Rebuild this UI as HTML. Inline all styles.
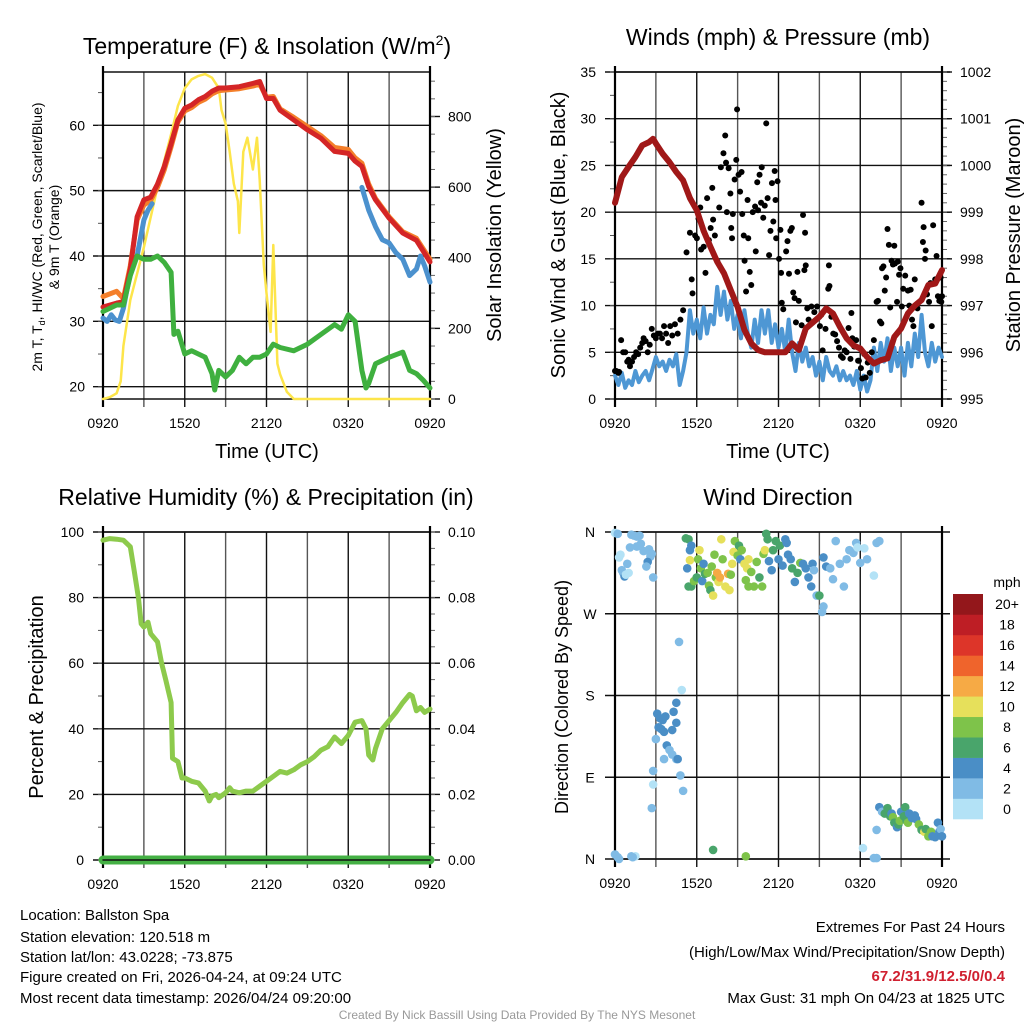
<!DOCTYPE html>
<html><head><meta charset="utf-8">
<style>
html,body{margin:0;padding:0;background:#fff;}
svg{display:block;font-family:"Liberation Sans",Arial,sans-serif;}
</style></head>
<body>
<svg id="chart" width="1024" height="1024" viewBox="0 0 1024 1024" xmlns="http://www.w3.org/2000/svg">
<rect x="0" y="0" width="1024" height="1024" fill="#fff"/>
<!-- titles -->
<text x="267" y="54" font-size="23" text-anchor="middle">Temperature (F) &amp; Insolation (W/m<tspan font-size="14" dy="-9">2</tspan><tspan dy="9">)</tspan></text>
<text x="778" y="45" font-size="23" text-anchor="middle">Winds (mph) &amp; Pressure (mb)</text>
<text x="266" y="505" font-size="23" text-anchor="middle">Relative Humidity (%) &amp; Precipitation (in)</text>
<text x="778" y="505" font-size="23" text-anchor="middle">Wind Direction</text>
<!-- axis titles -->
<text transform="translate(42,237) rotate(-90)" font-size="14" text-anchor="middle">2m T, T<tspan font-size="9" dy="3">d</tspan><tspan dy="-3">, HI/WC (Red, Green, Scarlet/Blue)</tspan></text>
<text transform="translate(59,237) rotate(-90)" font-size="14" text-anchor="middle">&amp; 9m T (Orange)</text>
<text transform="translate(501,235) rotate(-90)" font-size="20" text-anchor="middle">Solar Insolation (Yellow)</text>
<text x="267" y="458" font-size="20" text-anchor="middle">Time (UTC)</text>
<text transform="translate(565,235) rotate(-90)" font-size="20" text-anchor="middle">Sonic Wind &amp; Gust (Blue, Black)</text>
<text transform="translate(1020,235) rotate(-90)" font-size="20" text-anchor="middle">Station Pressure (Maroon)</text>
<text x="778" y="458" font-size="20" text-anchor="middle">Time (UTC)</text>
<text transform="translate(43,697) rotate(-90)" font-size="20" text-anchor="middle">Percent &amp; Precipitation</text>
<text transform="translate(568,697) rotate(-90)" font-size="18" text-anchor="middle">Direction (Colored By Speed)</text>
<text x="1007" y="587" font-size="14" text-anchor="middle">mph</text>
<!-- footer text -->
<g font-size="15">
<text x="20" y="920">Location: Ballston Spa</text>
<text x="20" y="942">Station elevation: 120.518 m</text>
<text x="20" y="962">Station lat/lon: 43.0228; -73.875</text>
<text x="20" y="982">Figure created on Fri, 2026-04-24, at 09:24 UTC</text>
<text x="20" y="1003">Most recent data timestamp: 2026/04/24 09:20:00</text>
</g>
<g font-size="15" text-anchor="end">
<text x="1005" y="932">Extremes For Past 24 Hours</text>
<text x="1005" y="957">(High/Low/Max Wind/Precipitation/Snow Depth)</text>
<text x="1005" y="981" fill="#d02030" font-weight="bold">67.2/31.9/12.5/0/0.4</text>
<text x="1005" y="1003">Max Gust: 31 mph On 04/23 at 1825 UTC</text>
</g>
<text x="517" y="1019" font-size="12" fill="#999" text-anchor="middle">Created By Nick Bassill Using Data Provided By The NYS Mesonet</text>
</svg>
<script>
// ---------- data ----------
const xTickLabels = ["0920","1520","2120","0320","0920"];
// Temperature panel (hours since 0920)
const tempHours = [0,1,1.5,2,2.5,3,3.5,4,4.5,5,5.5,6,6.5,7,7.5,8,8.5,9,10,11,11.5,12,12.5,13,14,15,16,17,18,18.5,19,19.5,20,21,22,23,24];
const tempRed   = [32.2,32.8,33,38,46,48.6,49,51,53.7,57.2,60.8,62.6,63.1,63.9,64.4,65.2,65.7,65.7,65.9,66.4,66.7,64.1,64.1,62.3,60.8,59.3,58,56,55.7,54.5,53.7,50.6,48.6,45.8,43.5,42.4,39.1];
const tempOrange= [33.8,34.6,33.5,38.5,45.5,47.8,48.5,50.5,53.2,56.7,60.5,62.2,62.7,63.5,64,64.8,65.3,65.4,65.6,66,66.3,64.3,64.4,62.5,61.2,59.8,58.4,56.6,56.3,55,54.2,51,48.8,46,43.7,42.7,39.5];
const hiHours = [0,0.3,0.6,0.9,1.2,1.5,2,2.5,3,3.3,3.6,null,19,19.5,20,20.5,21,21.5,22,22.5,23,23.3,23.6,24];
const hiBlue  = [30.5,30,31,30.2,30,32,37.5,40,45.5,47,48,null,50.5,47,44.5,42.5,42,40.5,39.5,37,38,40,38.5,36];
const dewHours = [0,1,1.5,2,2.5,3,3.5,4,4.5,5,5.2,5.5,6,6.5,7,7.5,8,8.2,8.5,9,9.5,10,10.5,11,11.5,12,12.5,13,14,15,16,17,17.5,18,18.5,19,19.3,19.5,20,21,22,22.5,23,23.5,24];
const dewGreen = [31.5,32.5,32.5,37,40,39.5,39.5,40,39,37.5,28,28.5,25,25.5,25,24.5,22,19.5,22.5,21.5,22.5,24.5,23.5,24.5,24.5,25,26.5,26,25.5,26.5,28,29.5,28.8,31,30,22.5,19.8,20.5,23.5,24.5,25.3,22.5,22,21,19.8];
const solarHours = [0,0.5,1,1.3,1.5,2,3,4,5,5.5,6,6.5,7,7.5,8,8.5,8.7,9,9.3,9.6,9.9,10,10.3,10.6,11,11.3,11.5,11.8,12,12.3,12.5,12.8,13,13.5,14,15,24];
const solarW     = [0,5,16,50,150,280,430,600,750,830,880,905,915,920,910,880,818,780,700,610,560,470,700,740,650,740,620,380,300,190,436,100,70,20,0,0,0];
// Wind panel
const windEvery15min = [2.5,1.5,2.8,1.2, 2.0,1.5,3.0,1.8, 2.5,3.0,2.0,3.2, 4.5,3.5,4.0,3.0, 4.2,3.5,4.8,1.5, 3.0,5.0,9.5,7.0, 8.5,6.5,9.8,7.0, 9.0,8.0,12.0,9.0, 11.5,8.5,10.5,7.5, 9.0,6.5,9.5,7.0, 5.5,8.5,6.0,9.5, 7.0,9.5,6.0,8.0, 5.5,7.5,5.0,8.5, 5.0,3.0,6.0,4.0, 5.5,3.5,4.5,2.5, 4.0,2.0,4.5,3.0, 2.5,3.5,2.0,3.0, 2.0,2.5,1.5,3.0, 1.0,2.5,0.8,2.0, 5.5,3.0,6.0,4.0, 6.5,3.0,5.5,3.5, 5.5,2.5,6.0,3.5, 7.0,4.5,9.0,5.0, 3.5,6.0,4.0,5.5, 4.5];
const pressHours = [0,0.5,1,1.5,2,2.5,2.8,3,3.5,4,4.5,5,5.5,6,6.5,7,7.5,8,8.5,9,9.5,10,10.5,11,12,12.5,13,13.5,14,15,15.5,16,16.5,17,17.5,18,18.5,19,19.5,20,20.5,21,21.5,22,22.5,23,23.5,24];
const pressMb = [999.2,999.75,999.97,1000.18,1000.43,1000.5,1000.57,1000.47,1000.25,1000.07,999.86,999.68,999.3,999.04,998.6,998.26,997.94,997.69,997.33,996.97,996.48,996.19,996.05,996.0,996.0,996.0,996.19,996.05,996.51,996.76,996.94,996.83,996.55,996.3,996.15,996.08,995.9,995.76,995.83,995.87,996.33,996.51,996.83,997.0,997.12,997.44,997.47,997.76];
const gustHours = [0,0.1,0.25,0.3,0.45,0.6,0.75,0.9,1.0,1.1,1.25,1.4,1.55,1.7,1.85,2.0,2.1,2.25,2.4,2.55,2.7,2.85,3.0,3.15,3.3,3.45,3.6,3.75,3.9,4.05,4.2,4.4,4.6,4.8,5.0,
5.25,5.5,5.63,5.69,5.88,6.01,6.13,6.26,6.32,6.51,6.64,6.76,6.89,7.02,7.14,7.2,7.33,7.52,7.65,7.77,7.96,8.09,8.15,8.21,8.34,8.47,8.53,8.59,8.65,8.78,8.9,
8.96,9.07,9.18,9.29,9.34,9.45,9.51,9.62,9.73,9.78,9.89,10.0,10.11,10.28,10.33,10.44,10.5,10.61,10.72,10.77,10.88,10.99,11.1,
11.2,11.31,11.41,11.52,11.62,11.72,11.78,11.83,11.93,12.04,12.14,12.19,12.24,12.35,12.56,12.66,12.77,12.87,12.98,13.08,13.18,13.28,13.39,13.49,13.7,13.8,
13.9,13.95,14.0,14.11,14.21,14.42,14.63,14.83,15.04,
15.14,15.24,15.45,15.65,15.7,15.74,15.88,16.02,16.16,16.3,16.44,16.58,16.72,16.86,17.0,17.14,17.28,17.35,17.42,17.56,17.7,17.84,
17.9,18.05,18.15,18.3,18.4,18.55,18.7,18.85,19.0,19.2,19.3,19.45,19.55,19.6,19.7,19.8,19.9,20.0,20.1,20.2,20.3,20.4,20.5,20.55,20.7,20.75,20.85,20.95,21.05,21.15,21.3,21.5,21.6,21.7,21.8,21.9,22.0,22.2,22.5,22.6,22.65,22.75,22.8,22.9,23.05,23.15,23.25,23.35,23.5,23.6,23.7,23.8,23.9,24.0,23.95];
const gustMph = [3,3,2.8,2.9,6.3,5,5,4,4.2,3.5,4,4.5,5,4.8,5.5,6,6.5,6.2,5,5.8,7.5,6.8,6.5,7,7,6.5,7.8,7,6,7.8,6.8,8,7,8.5,9.5,
15.7,17.8,12.8,11.3,17.5,17.2,19.3,20.5,16,16.3,13.5,21.5,17,18.3,22.6,19.2,17.5,14.7,20.5,24.8,26.3,28.2,25.3,20,24.7,22,18.3,17.2,19.8,23.5,25.6,31,24,22.2,24.3,19.8,17.5,14.8,11.5,21.3,17.2,13.6,12.2,20,20.6,15.8,23.2,20.2,24,21,24.8,19.4,20.7,29.5,21.5,15.4,18,23.1,19,24.4,21.3,17.2,23.3,15,18.1,13.5,10.3,9.6,15.8,16.9,13.4,18,18.3,11.4,10.8,8.2,13.6,10.5,7.9,19.7,13.8,17.8,14.3,9.7,8.5,9.9,9.3,9.9,7.8,
9,5.2,7.5,11.8,14.3,12.1,8.8,7,6.9,6.2,5.5,4.6,4.4,5.2,5,7.6,4.3,9.2,6.5,5.6,6.3,4.1,
4.1,3.3,2.2,4.8,2.3,3.9,2.8,5,6.3,10.4,10.5,8.3,8.1,14,14.2,11.6,13,18.2,16.5,9.8,14.8,14.4,16.4,14.5,10.4,14.7,13.3,14,9.9,11.8,13.2,11.6,10,11.7,8.5,7.8,12.8,9.7,21,16.8,18.4,15,15.9,11.2,10.4,12.4,7.8,18.6,12.8,15.3,11,10.5,13,11,10.4];
// Humidity panel
const rhHours = [0,0.5,1,1.5,2,2.3,2.6,2.8,3,3.3,3.5,4,4.3,4.6,5,5.1,5.5,5.8,6,6.5,7,7.5,7.8,8,8.3,8.5,9,9.3,9.5,10,10.5,11,11.5,12,12.5,13,13.5,14,14.5,15,15.5,16,16.5,17,17.5,18,18.5,19,19.3,19.5,19.8,20,20.5,21,21.5,22,22.5,22.7,23,23.3,23.6,24];
const rhPct = [97.5,98,97.8,97.5,95.5,88,80,72,71,72.5,69,66.5,60,55,48,31,30,25,25,24,23.5,21,18,19.5,20,19,20.5,22,21,20.5,21,21,22.5,24,25.5,27,26.5,27.5,29,30,31.5,33.5,34.5,37.5,35.5,38,42,42.5,40,32,30.5,34,40,42.5,45,48,50.5,50,45.5,46.5,45,46];
const precipHours = [0,24];
const precipIn = [0,0];
// Wind direction panel
const dirHours = [0,0.2,0.4,0.3,0.6,0.7,0.5,0.9,1.2,1.4,1.6,1.8,1.1,1.6,1.9,2.1,2.5,2.6,2.4,2.3,2.7,2.6,2.8,1.0,0.8,
0,0.2,0.3,1.2,1.5,1.3,
3.1,3.3,3.5,3.7,3.2,3.0,3.6,3.4,4.2,4.5,4.3,4.5,4.7,4.9,3.8,4.0,4.2,4.5,4.8,5.0,4.6,2.8,2.8,2.7,3.6,
5.2,5.4,5.3,5.5,5.6,5.5,5.4,5.6,5.8,6.0,6.2,6.1,6.3,6.4,6.5,6.6,6.8,6.9,7.0,7.1,7.2,7.3,7.4,7.6,7.7,7.5,7.8,7.9,8.1,8.3,8.4,8.5,8.6,8.7,8.8,9.0,9.1,9.3,9.2,9.5,9.7,9.8,9.6,9.8,10.0,10.2,10.4,10.6,10.8,10.9,11.0,11.1,11.2,11.3,11.5,11.6,11.8,12.0,12.1,12.3,12.5,12.6,12.7,12.9,13.0,13.2,13.4,13.6,13.8,14.0,14.2,14.4,14.5,14.6,14.8,15.0,15.3,15.5,15.8,16.0,16.2,16.5,16.8,17.0,17.2,17.5,17.7,17.8,18.0,18.3,18.5,19.0,19.2,19.4,15.2,15.3,
7.2,9.6,18.2,19.0,19.2,
19.4,19.6,19.8,20.0,20.2,20.3,20.4,20.5,20.7,20.8,20.9,21.0,21.2,21.3,21.4,21.5,21.6,21.8,22.0,22.1,22.3,22.5,22.7,22.8,23.0,23.2,23.3,23.5,23.7,23.8,23.9,24.0,19.2];
const dirDeg = [359,358,335,332,315,311,318,325,357,356,355,356,343,344,347,339,341,333,327,322,336,336,310,315,313,
5,2,0,3,3,2,
160,155,153,157,145,132,140,143,142,150,162,172,239,186,125,120,115,110,92,75,110,97,82,56,110,
353,352,320,340,345,329,300,300,306,310,340,330,320,306,325,314,315,301,296,322,290,335,310,305,310,315,352,330,300,314,296,313,325,338,350,334,345,340,330,325,320,330,307,300,316,300,327,310,300,336,340,358,352,328,318,340,350,330,345,323,352,348,335,330,320,305,315,326,325,320,310,300,325,318,290,290,332,322,320,308,350,325,300,330,340,337,348,343,326,342,330,312,348,350,272,278,
10,3,12,1,1,
57,52,50,56,47,50,46,40,35,38,42,52,47,57,42,40,50,45,48,44,38,32,30,33,25,30,25,24,40,30,33,25,32];
const dirSpeed = [1,2,0.5,1,2,4,3,3,2.5,2.5,3,2,3,2.5,2.5,3,3,2.5,4,3,3.5,2,3,1.5,1.5,
2,3,2,2,1,2.5,
4,4,4,5,4,3,4,4.5,4,4,4,4.5,2.5,0.5,4,3.5,3,3,3,2.5,4.5,2.5,1.5,3,3,
7,7,4,4.5,5,10,6,6.5,8,7,10,8,9,5,4,6,9,9,7,8,10,8,8,11,13,12,10,9,10,12,10,8,10,11,8,9,7,8,4,10,11,10,8,9,8,8,8,7,9,9,10,6,7,4,4,6,6,5,6,5,4,4,4,5,6,4,6,8,4,4,5,4,4,3,3,6,4,5,3,3,3,3,3,3,3,3,2,1,3,1,2.5,1,2,2,3,2,
6,8,1,2,3,
4,3,6,7,6,5,8,6,5,7,8,4,6,6,6,8,4,4,4,5,8,6,10,6,8,9,4,4,4,4,3,4,2];
const speedBinLabels = ["0","2","4","6","8","10","12","14","16","18","20+"];
const speedBinColors = ["#b3e2f6","#80bbe5","#4a8ec6","#49a56b","#7ec34a","#e6e05b","#f6aa45","#ef642c","#dd3529","#be1e25","#93171b"];

// ---------- helpers ----------
const NS = "http://www.w3.org/2000/svg";
const svg = document.getElementById("chart");
function el(tag, attrs, parent){
  const e = document.createElementNS(NS, tag);
  for (const k in attrs) e.setAttribute(k, attrs[k]);
  (parent || svg).appendChild(e);
  return e;
}
function lin(d0,d1,r0,r1){ return v => r0 + (v-d0)/(d1-d0)*(r1-r0); }
function linePath(xs, ys, sx, sy){
  let d = "", pen = false;
  for (let i=0;i<xs.length;i++){
    if (xs[i]===null || ys[i]===null){ pen=false; continue; }
    d += (pen ? "L" : "M") + sx(xs[i]).toFixed(1) + "," + sy(ys[i]).toFixed(1);
    pen = true;
  }
  return d;
}

function frame(p){
  const g = el("g", {});
  
  
  const sx = lin(0,24,p.x0,p.x1);
  for (let h=0; h<=24; h+=3){
    const x = sx(h);
    const ln = el("line", {x1:x, y1:p.yT, x2:x, y2:p.yB+8, stroke:(h%6===3?"#555":"#111"), "stroke-width":(h===0||h===24)?2:1.4}, g);
    
    
  }
  xTickLabels.forEach((lab,i)=>{
    const t = el("text", {x:sx(i*6), y:p.yB+29, "font-size":14, "text-anchor":"middle"}, g);
    t.textContent = lab;
    
    
  });
  p.ticks.forEach((v,i)=>{
    const y = p.sy(v);
    const ln = el("line", {x1:p.x0-10, y1:y, x2:p.x1+(p.extRight||0), y2:y, stroke:"#111", "stroke-width":1.4}, g);
    
    
    const t = el("text", {x:p.labelX, y:y+5, "font-size":14, "text-anchor":p.labelAnchor||"end"}, g);
    t.textContent = p.tickLabels[i];
    
    
  });
  (p.minor||[]).forEach(v=>{
    const y = p.sy(v);
    el("line", {x1:p.x0-5, y1:y, x2:p.x0, y2:y, stroke:"#555", "stroke-width":1}, g);
  });
  if (p.rTicks){
    p.rTicks.forEach((v,i)=>{
      const y = p.sr(v);
      el("line", {x1:p.x1, y1:y, x2:p.x1+10, y2:y, stroke:"#111", "stroke-width":1.4}, g);
      const t = el("text", {x:p.x1+18, y:y+5, "font-size":14}, g);
      t.textContent = p.rLabels[i];
      
      
    });
    (p.rMinor||[]).forEach(v=>{
      const y = p.sr(v);
      el("line", {x1:p.x1, y1:y, x2:p.x1+5, y2:y, stroke:"#666", "stroke-width":1}, g);
    });
  }
  el("line", {x1:p.x0, y1:p.yT, x2:p.x1, y2:p.yT, stroke:"#111", "stroke-width":1.4}, g);
  el("line", {x1:p.x0, y1:p.yB, x2:p.x1, y2:p.yB, stroke:"#111", "stroke-width":1.4}, g);
  el("line", {x1:p.x0, y1:p.yT-6, x2:p.x0, y2:p.yB+8, stroke:"#000", "stroke-width":2.2}, g);
  el("line", {x1:p.x1, y1:p.yT-6, x2:p.x1, y2:p.yB+8, stroke:"#000", "stroke-width":2.2}, g);
  return sx;
}
function range(a,b,s){ const r=[]; for(let v=a; v<=b+1e-9; v+=s) r.push(+v.toFixed(4)); return r; }

// ---------- Panel 1: temperature ----------
(function(){
  const p = {name:"temperature", x0:103, x1:430, yT:72, yB:399};
  p.sy = lin(18.12,68.15,399,72);
  p.sr = lin(0,926,399,72);
  p.ticks=[20,30,40,50,60]; p.tickLabels=["20","30","40","50","60"]; p.labelX=85;
  p.minor = range(20,65,5);
  p.rTicks=[0,200,400,600,800]; p.rLabels=["0","200","400","600","800"];
  p.rMinor = range(0,900,50);
  const sx = frame(p);
  const g = el("g", {fill:"none", "stroke-linejoin":"round", "stroke-linecap":"round"});
  
  
  let s;
  s = el("path", {d:linePath(solarHours, solarW, sx, p.sr), stroke:"#fde54a", "stroke-width":2.5}, g);
  
  
  s = el("path", {d:linePath(tempHours, tempOrange, sx, p.sy), stroke:"#f47f2a", "stroke-width":5}, g);
  
  
  s = el("path", {d:linePath(hiHours, hiBlue, sx, p.sy), stroke:"#4b91ce", "stroke-width":5}, g);
  
  
  s = el("path", {d:linePath(tempHours, tempRed, sx, p.sy), stroke:"#d42526", "stroke-width":5}, g);
  
  
  s = el("path", {d:linePath(dewHours, dewGreen, sx, p.sy), stroke:"#3fb03f", "stroke-width":5}, g);
  
  
})();

// ---------- Panel 2: winds ----------
(function(){
  const p = {name:"winds", x0:615, x1:942, yT:72, yB:399, extRight:8};
  p.sy = lin(0,35,399,72);
  p.sr = lin(995,1002,399,72);
  p.ticks=[0,5,10,15,20,25,30,35]; p.tickLabels=["0","5","10","15","20","25","30","35"]; p.labelX=596;
  p.minor = range(0,35,2.5);
  p.rTicks=[995,996,997,998,999,1000,1001,1002]; p.rLabels=["995","996","997","998","999","1000","1001","1002"];
  p.rMinor = range(995,1002,0.2);
  const sx = frame(p);
  const windHours = windEvery15min.map((v,i)=>i/4);
  const g = el("g", {fill:"none", "stroke-linejoin":"round", "stroke-linecap":"round"});
  
  
  let s = el("path", {d:linePath(windHours, windEvery15min, sx, p.sy), stroke:"#4e97d4", "stroke-width":4}, g);
  
  
  gustHours.forEach((t,i)=>{
    const c = el("circle", {cx:sx(t), cy:p.sy(gustMph[i]), r:3, fill:"#000"}, g);
    
    
  });
  s = el("path", {d:linePath(pressHours, pressMb, sx, p.sr), stroke:"#a01818", "stroke-width":6}, g);
  
  
})();

// ---------- Panel 3: humidity ----------
(function(){
  const p = {name:"humidity", x0:103, x1:430, yT:532, yB:860};
  p.sy = lin(0,100,860,532);
  p.sr = lin(0,0.1,860,532);
  p.ticks=[0,20,40,60,80,100]; p.tickLabels=["0","20","40","60","80","100"]; p.labelX=84;
  p.minor = range(0,100,10);
  p.rTicks=[0,0.02,0.04,0.06,0.08,0.1]; p.rLabels=["0.00","0.02","0.04","0.06","0.08","0.10"];
  p.rMinor = range(0,0.1,0.005);
  const sx = frame(p);
  const g = el("g", {fill:"none", "stroke-linejoin":"round", "stroke-linecap":"round"});
  
  
  let s = el("path", {d:linePath(rhHours, rhPct, sx, p.sy), stroke:"#8dca4c", "stroke-width":5}, g);
  
  
  s = el("path", {d:linePath(precipHours, precipIn, sx, p.sr), stroke:"#44b044", "stroke-width":9}, g);
  
  
  el("line", {x1:103, y1:860, x2:430, y2:860, stroke:"#111", "stroke-width":1.4}, g);
})();

// ---------- Panel 4: wind direction ----------
(function(){
  const p = {name:"wind-direction", x0:615, x1:942, yT:532, yB:859, extRight:8};
  p.sy = lin(0,360,859,532);
  p.ticks=[0,90,180,270,360]; p.tickLabels=["N","E","S","W","N"]; p.labelX=590; p.labelAnchor="middle";
  const sx = frame(p);
  const g = el("g", {});
  
  
  dirHours.forEach((t,i)=>{
    const bin = Math.min(10, Math.max(0, Math.floor(dirSpeed[i]/2)));
    const c = el("circle", {cx:sx(t), cy:p.sy(dirDeg[i]), r:4.3, fill:speedBinColors[bin]}, g);
    
    
  });
  const cb = el("g", {});
  
  
  const top=594, bot=819, h=(bot-top)/speedBinColors.length;
  speedBinColors.forEach((col,i)=>{
    const y = bot - (i+1)*h;
    const r = el("rect", {x:953, y:y, width:30, height:h+0.3, fill:col}, cb);
    
    
    const t = el("text", {x:1007, y:y+h/2+5, "font-size":14, "text-anchor":"middle"}, cb);
    t.textContent = speedBinLabels[i];
    
    
  });
})();
</script>
</body></html>
